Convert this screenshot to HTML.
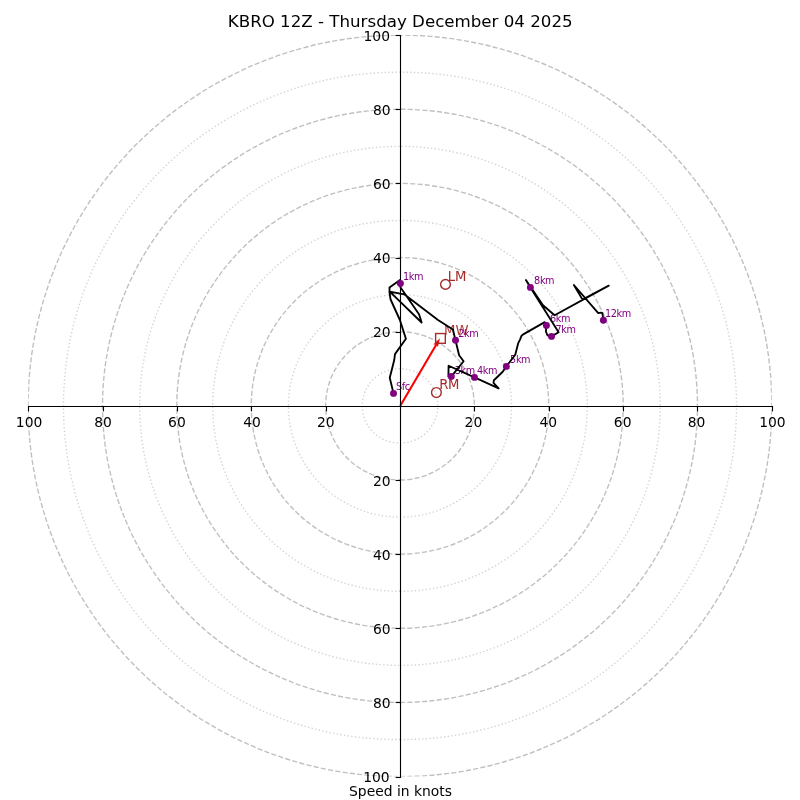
<!DOCTYPE html>
<html lang="en">
<head>
<meta charset="utf-8">
<title>KBRO 12Z - Thursday December 04 2025</title>
<style>
html,body{margin:0;padding:0;background:#fff;}
body{width:800px;height:800px;overflow:hidden;}
svg{display:block;}
text{font-family:"DejaVu Sans","Liberation Sans",sans-serif;}
.tick{font-size:13.89px;fill:#000;}
.ttl{font-size:16.67px;fill:#000;}
.km{font-size:9.72px;fill:#800080;letter-spacing:-0.4px;}
.bk{font-size:13.2px;fill:#a52a2a;}
.dash{fill:none;stroke:#c0c0c0;stroke-width:1.39;stroke-dasharray:5.14 2.22;}
.dot{fill:none;stroke:#d3d3d3;stroke-width:1.39;stroke-dasharray:1.39 2.29;}
.ax{stroke:#000;stroke-width:1.11;fill:none;stroke-linecap:square;}
.tk{stroke:#000;stroke-width:1.11;fill:none;}
.hodo{fill:none;stroke:#000;stroke-width:1.85;stroke-linejoin:round;stroke-linecap:butt;}
.pt{fill:#800080;}
.mk{fill:none;stroke:#a52a2a;stroke-width:1.39;}
</style>
</head>
<body>
<svg width="800" height="800" viewBox="0 0 800 800">
<rect x="0" y="0" width="800" height="800" fill="#ffffff"/>
<defs><clipPath id="axclip"><rect x="28.15" y="35.1" width="743.7" height="741.5"/></clipPath></defs>
<g clip-path="url(#axclip)">
<path class="dot" d="M400.00,442.93 A37.19,37.08 0 1 0 400.00,368.78 A37.19,37.08 0 1 0 400.00,442.93"/>
<path class="dot" d="M400.00,517.08 A111.56,111.22 0 1 0 400.00,294.62 A111.56,111.22 0 1 0 400.00,517.08"/>
<path class="dot" d="M400.00,591.23 A185.93,185.38 0 1 0 400.00,220.48 A185.93,185.38 0 1 0 400.00,591.23"/>
<path class="dot" d="M400.00,665.38 A260.30,259.52 0 1 0 400.00,146.33 A260.30,259.52 0 1 0 400.00,665.38"/>
<path class="dot" d="M400.00,739.53 A334.67,333.68 0 1 0 400.00,72.18 A334.67,333.68 0 1 0 400.00,739.53"/>
<path class="dash" d="M400.00,480.00 A74.37,74.15 0 1 0 400.00,331.70 A74.37,74.15 0 1 0 400.00,480.00"/>
<path class="dash" d="M400.00,554.15 A148.74,148.30 0 1 0 400.00,257.55 A148.74,148.30 0 1 0 400.00,554.15"/>
<path class="dash" d="M400.00,628.30 A223.11,222.45 0 1 0 400.00,183.40 A223.11,222.45 0 1 0 400.00,628.30"/>
<path class="dash" d="M400.00,702.45 A297.48,296.60 0 1 0 400.00,109.25 A297.48,296.60 0 1 0 400.00,702.45"/>
<path class="dash" d="M400.00,776.60 A371.85,370.75 0 1 0 400.00,35.10 A371.85,370.75 0 1 0 400.00,776.60"/>
</g>
<polygon fill="#ff0000" points="399.30,405.47 435.15,344.46 433.31,344.42 439.95,338.35 437.88,347.11 436.95,345.52 401.10,406.53"/>
<circle class="mk" cx="445.5" cy="284.4" r="4.86"/>
<circle class="mk" cx="436.4" cy="392.5" r="4.86"/>
<rect class="mk" x="435.6" y="333.55" width="9.72" height="9.72"/>
<text class="bk" x="447.7" y="281">LM</text>
<text class="bk" x="439.3" y="389" letter-spacing="-0.4">RM</text>
<text class="bk" x="444.0" y="335" opacity="0.92">MW</text>
<text class="km" x="396.0" y="390">Sfc</text>
<text class="km" x="403.0" y="280">1km</text>
<text class="km" x="458.2" y="337">2km</text>
<text class="km" x="454.8" y="374">3km</text>
<text class="km" x="476.9" y="374">4km</text>
<text class="km" x="510.1" y="363">5km</text>
<text class="km" x="550.0" y="322">6km</text>
<text class="km" x="555.4" y="333">7km</text>
<text class="km" x="534.1" y="284">8km</text>
<text class="km" x="605.0" y="317">12km</text>
<line class="ax" x1="28.5" y1="406.5" x2="772.5" y2="406.5"/>
<line class="ax" x1="400.5" y1="35.5" x2="400.5" y2="777.5"/>
<line class="tk" x1="28.50" y1="406.5" x2="28.50" y2="411.36"/>
<line class="tk" x1="400.5" y1="777.50" x2="395.64" y2="777.50"/>
<text class="tick" text-anchor="middle" x="29.10" y="427">100</text>
<text class="tick" text-anchor="end" x="389.68" y="782">100</text>
<line class="tk" x1="103.50" y1="406.5" x2="103.50" y2="411.36"/>
<line class="tk" x1="400.5" y1="702.50" x2="395.64" y2="702.50"/>
<text class="tick" text-anchor="middle" x="102.97" y="427">80</text>
<text class="tick" text-anchor="end" x="390.68" y="708">80</text>
<line class="tk" x1="177.50" y1="406.5" x2="177.50" y2="411.36"/>
<line class="tk" x1="400.5" y1="628.50" x2="395.64" y2="628.50"/>
<text class="tick" text-anchor="middle" x="176.94" y="427">60</text>
<text class="tick" text-anchor="end" x="390.68" y="634">60</text>
<line class="tk" x1="251.50" y1="406.5" x2="251.50" y2="411.36"/>
<line class="tk" x1="400.5" y1="554.50" x2="395.64" y2="554.50"/>
<text class="tick" text-anchor="middle" x="252.01" y="427">40</text>
<text class="tick" text-anchor="end" x="390.68" y="560">40</text>
<line class="tk" x1="326.50" y1="406.5" x2="326.50" y2="411.36"/>
<line class="tk" x1="400.5" y1="480.50" x2="395.64" y2="480.50"/>
<text class="tick" text-anchor="middle" x="325.88" y="427">20</text>
<text class="tick" text-anchor="end" x="390.68" y="486">20</text>
<line class="tk" x1="474.50" y1="406.5" x2="474.50" y2="411.36"/>
<line class="tk" x1="400.5" y1="332.50" x2="395.64" y2="332.50"/>
<text class="tick" text-anchor="middle" x="473.42" y="427">20</text>
<text class="tick" text-anchor="end" x="390.68" y="337">20</text>
<line class="tk" x1="549.50" y1="406.5" x2="549.50" y2="411.36"/>
<line class="tk" x1="400.5" y1="258.50" x2="395.64" y2="258.50"/>
<text class="tick" text-anchor="middle" x="548.29" y="427">40</text>
<text class="tick" text-anchor="end" x="390.68" y="263">40</text>
<line class="tk" x1="623.50" y1="406.5" x2="623.50" y2="411.36"/>
<line class="tk" x1="400.5" y1="183.50" x2="395.64" y2="183.50"/>
<text class="tick" text-anchor="middle" x="622.66" y="427">60</text>
<text class="tick" text-anchor="end" x="390.68" y="189">60</text>
<line class="tk" x1="697.50" y1="406.5" x2="697.50" y2="411.36"/>
<line class="tk" x1="400.5" y1="109.50" x2="395.64" y2="109.50"/>
<text class="tick" text-anchor="middle" x="696.63" y="427">80</text>
<text class="tick" text-anchor="end" x="390.68" y="115">80</text>
<line class="tk" x1="772.50" y1="406.5" x2="772.50" y2="411.36"/>
<line class="tk" x1="400.5" y1="35.50" x2="395.64" y2="35.50"/>
<text class="tick" text-anchor="middle" x="772.40" y="427">100</text>
<text class="tick" text-anchor="end" x="389.98" y="41">100</text>
<polyline class="hodo" points="393.50,393.40 389.75,377.70 394.25,360.00 395.00,354.10 405.90,338.75 399.90,320.00 390.50,299.25 389.50,292.00 389.50,287.60 400.00,279.90 400.50,287.50 404.75,293.50 419.00,314.25 420.50,318.75 421.60,322.50 389.75,291.60 404.20,294.30 438.00,320.00 452.90,329.50 455.50,340.30 459.10,355.25 463.60,361.25 451.40,376.40 448.40,376.50 448.60,365.75 474.50,377.40 498.60,388.30 493.50,382.90 493.90,380.25 502.50,372.00 506.40,366.40 515.25,354.75 518.25,343.10 520.00,339.60 521.60,335.70 523.20,334.40 544.75,322.10 546.40,325.50 545.90,331.50 547.40,335.25 551.50,336.40 558.60,332.25 530.40,287.40 525.90,280.10 543.00,305.25 554.60,315.30 608.75,285.60 582.50,299.60 573.90,285.00 598.25,313.10 600.90,312.60 602.40,313.10 603.40,320.30"/>
<circle class="pt" cx="393.5" cy="393.4" r="3.47"/>
<circle class="pt" cx="400.4" cy="283.5" r="3.47"/>
<circle class="pt" cx="455.5" cy="340.3" r="3.47"/>
<circle class="pt" cx="451.3" cy="376.4" r="3.47"/>
<circle class="pt" cx="474.5" cy="377.4" r="3.47"/>
<circle class="pt" cx="506.4" cy="366.4" r="3.47"/>
<circle class="pt" cx="546.4" cy="325.5" r="3.47"/>
<circle class="pt" cx="551.5" cy="336.4" r="3.47"/>
<circle class="pt" cx="530.4" cy="287.4" r="3.47"/>
<circle class="pt" cx="603.4" cy="320.3" r="3.47"/>
<text class="ttl" text-anchor="middle" x="400.2" y="27">KBRO 12Z - Thursday December 04 2025</text>
<text class="tick" text-anchor="middle" x="400.5" y="796">Speed in knots</text>
</svg>
</body>
</html>
